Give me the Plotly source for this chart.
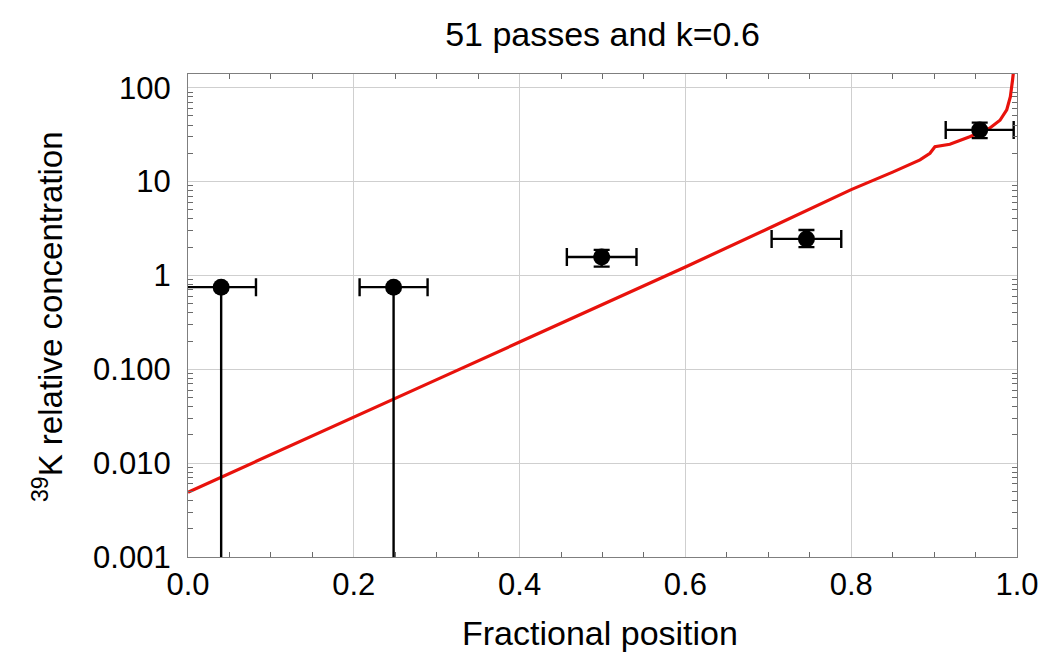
import plotly.graph_objects as go

# ---- data ----
curve_x = [0.0, 0.04, 0.1, 0.2, 0.246, 0.3, 0.4, 0.5, 0.6, 0.7, 0.762, 0.8, 0.85,
           0.883, 0.895, 0.901, 0.919, 0.943, 0.967, 0.9795, 0.9876, 0.992, 0.9946, 0.9962]
curve_y = [0.0049, 0.0071, 0.0123, 0.031, 0.047, 0.0776, 0.195, 0.49, 1.23, 3.16, 5.75, 8.2, 12.6,
           17.0, 20.0, 23.5, 25.0, 30.0, 37.0, 45.0, 58.0, 80.0, 120.0, 160.0]

pts_x = [0.04, 0.248, 0.499, 0.746, 0.955]
pts_y = [0.75, 0.75, 1.57, 2.45, 35.5]
pts_xerr = [0.042, 0.041, 0.042, 0.042, 0.041]
pts_yerr_plus = [0.0, 0.0, 0.30, 0.60, 7.0]
pts_yerr_minus = [0.7499, 0.7499, 0.33, 0.45, 6.5]

y_tickvals = [0.001, 0.01, 0.1, 1, 10, 100]
y_ticktext = ["0.001", "0.010", "0.100", "1", "10", "100"]
x_tickvals = [0.0, 0.2, 0.4, 0.6, 0.8, 1.0]
x_ticktext = ["0.0", "0.2", "0.4", "0.6", "0.8", "1.0"]
x_minor = [0.05, 0.1, 0.15, 0.25, 0.3, 0.35, 0.45, 0.5, 0.55,
           0.65, 0.7, 0.75, 0.85, 0.9, 0.95]
y_minor = [m * 10.0 ** e for e in range(-3, 3) for m in range(2, 10) if m * 10.0 ** e < 140]

FONT = "Liberation Sans, Arial, sans-serif"
FRAME = "#7f7f7f"
TICK = "#6a6a6a"
GRID = "#cfcfcf"
X_RANGE = [0, 1]
Y_RANGE = [-3, 2.146]

fig = go.Figure()
fig.add_trace(go.Scatter(
    x=curve_x, y=curve_y, mode="lines",
    line=dict(color="#e8120c", width=3.2), showlegend=False, hoverinfo="skip"))
fig.add_trace(go.Scatter(
    x=pts_x, y=pts_y, mode="markers",
    marker=dict(color="black", size=17),
    error_x=dict(type="data", array=pts_xerr, color="black", thickness=2.4, width=9),
    error_y=dict(type="data", symmetric=False, array=pts_yerr_plus,
                 arrayminus=pts_yerr_minus, color="black", thickness=2.4, width=8),
    showlegend=False))
# invisible trace carrying the overlay axes that draw the minor tick marks
fig.add_trace(go.Scatter(x=[0.5], y=[1], xaxis="x2", yaxis="y2", mode="markers",
                         marker=dict(opacity=0), showlegend=False, hoverinfo="skip"))

fig.update_layout(
    width=1042, height=654,
    showlegend=False,
    margin=dict(l=188, r=25, t=74, b=97, autoexpand=False),
    plot_bgcolor="white", paper_bgcolor="white",
    font=dict(family=FONT, color="black"),
    title=dict(text="51 passes and k=0.6", x=0.5, xref="paper", xanchor="center",
               y=1 - 34 / 654, yref="container", yanchor="middle",
               font=dict(size=34, family=FONT, color="black")),
    xaxis=dict(
        range=X_RANGE, tickmode="array", tickvals=x_tickvals, ticktext=x_ticktext,
        automargin=False, showline=True, linecolor=FRAME, linewidth=1.3, mirror=True,
        ticks="", showgrid=True, gridcolor=GRID, gridwidth=1, zeroline=False,
        tickfont=dict(size=31, family=FONT, color="black"),
    ),
    yaxis=dict(
        type="log", range=Y_RANGE, tickmode="array", tickvals=y_tickvals, ticktext=y_ticktext,
        automargin=False, showline=True, linecolor=FRAME, linewidth=1.3, mirror=True,
        ticks="outside", ticklen=10, tickcolor="rgba(0,0,0,0)",
        showgrid=True, gridcolor=GRID, gridwidth=1, zeroline=False,
        tickfont=dict(size=31, family=FONT, color="black"),
    ),
    xaxis2=dict(
        overlaying="x", anchor="y2", range=X_RANGE, tickmode="array", tickvals=x_minor,
        showticklabels=False, showline=False, mirror="allticks",
        ticks="inside", ticklen=5, tickcolor=TICK, tickwidth=1.2,
        showgrid=False, zeroline=False,
    ),
    yaxis2=dict(
        overlaying="y", anchor="x2", type="log", range=Y_RANGE, tickmode="array",
        tickvals=y_minor, showticklabels=False, showline=False, mirror="allticks",
        ticks="inside", ticklen=5, tickcolor=TICK, tickwidth=1.2,
        showgrid=False, zeroline=False,
    ),
    annotations=[
        dict(text="Fractional position", xref="paper", yref="paper",
             x=(600 - 188) / 829, y=-(654 - 557) / 483, xanchor="center", yanchor="bottom",
             showarrow=False, font=dict(size=34, family=FONT, color="black")),
        dict(text="<sup>39</sup>K relative concentration", xref="paper", yref="paper",
             x=-(188 - 48) / 829, y=1 - (317 - 74) / 483, xanchor="center", yanchor="middle",
             textangle=-90, showarrow=False, font=dict(size=33, family=FONT, color="black")),
    ],
)

fig.write_html("out.html")
